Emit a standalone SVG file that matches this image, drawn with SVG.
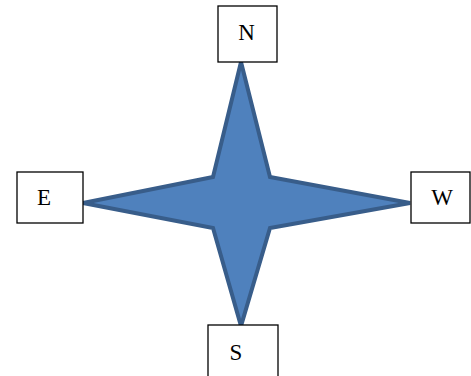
<svg xmlns="http://www.w3.org/2000/svg" width="471" height="376" viewBox="0 0 471 376">
<style>
.box{fill:#fff;stroke:#000;stroke-width:1.3}
.lbl{font-family:"Liberation Serif",serif;font-size:23px;fill:#000;text-anchor:middle}
.star{fill:#4F81BD;stroke:#385D8A;stroke-width:4;stroke-linejoin:miter}
</style>
<g id="connectors"></g>
<g id="star"><polygon class="star" points="241,62 270,177 410,203 270,228 241,326 213,228 83,203 213,177"/></g>
<g id="N"><rect class="box" x="218" y="6" width="59" height="56"/><text class="lbl" x="246.5" y="40">N</text></g>
<g id="E"><rect class="box" x="17" y="172" width="66" height="51"/><text class="lbl" x="44" y="205">E</text></g>
<g id="W"><rect class="box" x="411" y="172" width="59" height="51"/><text class="lbl" x="442" y="204.5">W</text></g>
<g id="S"><rect class="box" x="208" y="325" width="70" height="54"/><text class="lbl" x="236" y="360">S</text></g>
</svg>
